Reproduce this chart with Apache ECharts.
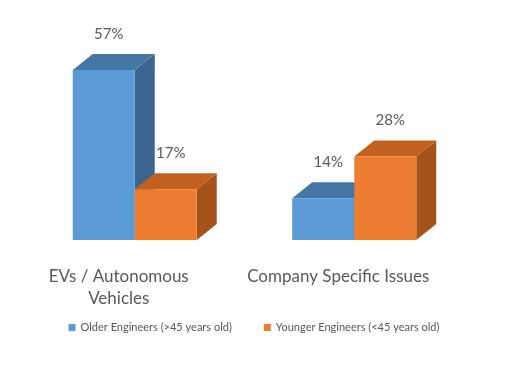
<!DOCTYPE html>
<html><head><meta charset="utf-8">
<script src="https://cdn.jsdelivr.net/npm/echarts@6/dist/echarts.min.js"></script>
<style>html,body{margin:0;padding:0;background:#fff}#c{width:508px;height:371px}</style>
</head><body><div id="c"></div>
<script>
const categories = ['EVs / Autonomous Vehicles', 'Company Specific Issues'];
const seriesNames = ['Older Engineers (>45 years old)', 'Younger Engineers (<45 years old)'];
const olderValues = [57, 14];
const youngerValues = [17, 28];

const FONT = 'Lato, "Noto Sans", sans-serif';
const palettes = [
  {front: '#5B9BD5', top: '#4676A4', side: '#3B6690'},
  {front: '#ED7D31', top: '#C2601F', side: '#A4541B'}
];

function makeRender(idx) {
  return function (params, api) {
    const cat = api.value(0), val = api.value(1);
    const topPt = api.coord([cat, val]);
    const basePt = api.coord([cat, 0]);
    const band = api.size([1, 0])[0];
    const barW = band * 0.2825;
    const dx = band * 0.091, dy = -16;
    const x0 = idx === 0 ? topPt[0] - barW : topPt[0];
    const x1 = x0 + barW;
    const t = topPt[1], b = basePt[1];
    const p = palettes[idx];
    return {
      type: 'group',
      children: [
        {type: 'polygon', shape: {points: [[x1, t], [x1 + dx, t + dy], [x1 + dx, b + dy], [x1, b]]}, style: {fill: p.side}},
        {type: 'polygon', shape: {points: [[x0, t], [x1, t], [x1 + dx, t + dy], [x0 + dx, t + dy]]}, style: {fill: p.top}},
        {type: 'rect', shape: {x: x0, y: t, width: barW, height: b - t}, style: {fill: p.front}},
        {type: 'text', x: (x0 + x1) / 2 + 5, y: t - 36, style: {text: val + '%', fill: '#595959', font: '15px ' + FONT, align: 'center', verticalAlign: 'middle'}}
      ]
    };
  };
}

const chart = echarts.init(document.getElementById('c'), null, {renderer: 'canvas'});
chart.setOption({
  animation: false,
  backgroundColor: '#fff',
  grid: {left: 25, right: 44, top: 61, bottom: 131},
  xAxis: {
    type: 'category', data: categories, boundaryGap: true,
    axisLine: {show: false}, axisTick: {show: false}, splitLine: {show: false},
    axisLabel: {
      margin: 26, color: '#595959', fontFamily: FONT, fontSize: 17, lineHeight: 22,
      padding: [0, 32, 0, 0], interval: 0,
      formatter: v => v.replace('Autonomous ', 'Autonomous\n')
    }
  },
  yAxis: {type: 'value', min: 0, max: 60, show: false},
  legend: {
    bottom: 33, left: 'center', itemWidth: 7, itemHeight: 7, itemGap: 32, icon: 'rect',
    textStyle: {color: '#595959', fontFamily: FONT, fontSize: 11},
    data: seriesNames
  },
  series: [
    {type: 'custom', name: seriesNames[0], itemStyle: {color: palettes[0].front}, renderItem: makeRender(0),
     data: categories.map((c, i) => [i, olderValues[i]])},
    {type: 'custom', name: seriesNames[1], itemStyle: {color: palettes[1].front}, renderItem: makeRender(1),
     data: categories.map((c, i) => [i, youngerValues[i]])}
  ]
});
</script></body></html>
